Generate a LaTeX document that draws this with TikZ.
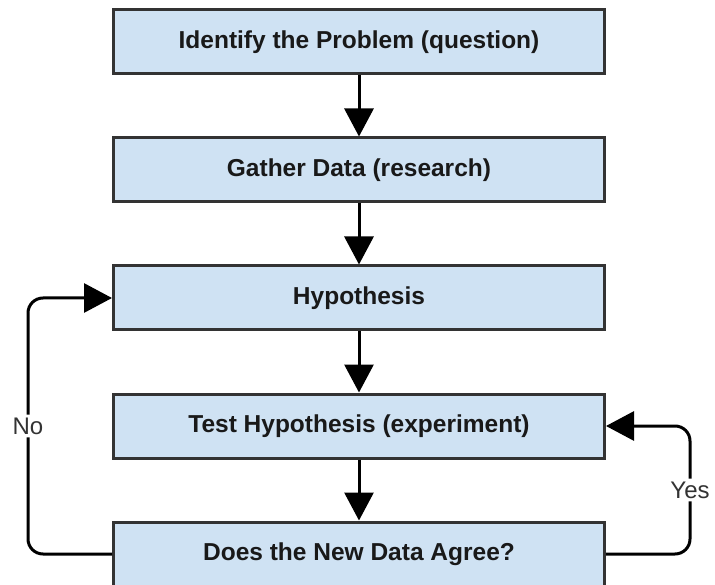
\documentclass[tikz,border=0pt]{standalone}
\usepackage{fontspec}
\setmainfont{Liberation Sans}
\usetikzlibrary{arrows.meta}
\definecolor{boxfill}{HTML}{CFE2F3}
\definecolor{boxline}{HTML}{333333}
\definecolor{labtext}{HTML}{333333}
\tikzset{
  stepbox/.style={draw=boxline, fill=boxfill, line width=3pt, minimum width=491pt, minimum height=64pt, inner sep=0pt,
    font=\bfseries\fontsize{24.5}{28}\selectfont, text=black!90},
  conn/.style={line width=3pt, draw=black, -{Triangle[width=29pt,length=28pt]}},
  loopconn/.style={conn, rounded corners=15pt},
  looplabel/.style={fill=white, inner sep=3pt, font=\fontsize{24}{28}\selectfont, text=labtext}
}
\begin{document}
\begin{tikzpicture}[x=1pt,y=-1pt]
\useasboundingbox (0,0) rectangle (715,585);
\clip (0,0) rectangle (715,585);
\node[stepbox] (b1) at (359,42) {Identify the Problem (question)};
\node[stepbox] (b2) at (359,170) {Gather Data (research)};
\node[stepbox] (b3) at (359,298) {Hypothesis};
\node[stepbox] (b4) at (359,426) {Test Hypothesis (experiment)};
\node[stepbox] (b5) at (359,554) {Does the New Data Agree?};
\draw[conn] (b1) -- (b2);
\draw[conn] (b2) -- (b3);
\draw[conn] (b3) -- (b4);
\draw[conn] (b4) -- (b5);
\coordinate (lx) at (28,0);
\coordinate (rx) at (690,0);
\draw[loopconn] (b5.west) -| (lx |- b3.west) node[looplabel, pos=0.75] (no) {No} -- (b3.west);
\draw[loopconn] (b5.east) -| (rx |- b4.east) node[looplabel, pos=0.75] (yes) {Yes} -- (b4.east);
\end{tikzpicture}
\end{document}
